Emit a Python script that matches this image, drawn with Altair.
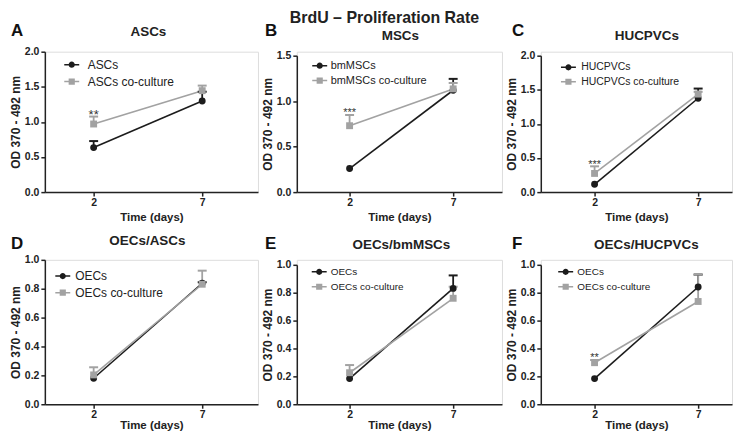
import altair as alt
import pandas as pd

# ---------------- data ----------------
TIME_DAYS = [2, 7]
PANEL_LETTERS = ["A", "B", "C", "D", "E", "F"]
PANEL_TITLES = ["ASCs", "MSCs", "HUCPVCs", "OECs/ASCs", "OECs/bmMSCs", "OECs/HUCPVCs"]
MONO_LABELS = ["ASCs", "bmMSCs", "HUCPVCs", "OECs", "OECs", "OECs"]
CO_LABELS = ["ASCs co-culture", "bmMSCs co-culture", "HUCPVCs co-culture",
             "OECs co-culture", "OECs co-culture", "OECs co-culture"]
MONO_MEAN = [[0.634, 1.297], [0.259, 1.120], [0.115, 1.376],
             [0.180, 0.838], [0.184, 0.831], [0.184, 0.841]]
MONO_UPPER = [[0.727, 1.430], [0.259, 1.245], [0.115, 1.518],
              [0.180, 0.845], [0.184, 0.924], [0.184, 0.930]]
CO_MEAN = [[0.970, 1.445], [0.730, 1.135], [0.274, 1.437],
           [0.203, 0.831], [0.226, 0.760], [0.298, 0.737]]
CO_UPPER = [[1.076, 1.517], [0.848, 1.200], [0.378, 1.470],
            [0.256, 0.925], [0.281, 0.843], [0.317, 0.930]]
SIGNIF = ["**", "***", "***", "", "", "**"]
Y_MAX = [2.0, 1.5, 2.0, 1.0, 1.0, 1.0]
Y_TICKS = [[0, 0.5, 1.0, 1.5, 2.0], [0, 0.5, 1.0, 1.5], [0, 0.5, 1.0, 1.5, 2.0],
           [0, 0.2, 0.4, 0.6, 0.8, 1.0], [0, 0.2, 0.4, 0.6, 0.8, 1.0],
           [0, 0.2, 0.4, 0.6, 0.8, 1.0]]
MAIN_TITLE = "BrdU \u2013 Proliferation Rate"
X_TITLE = "Time (days)"
Y_TITLE = "OD 370 - 492 nm"

# ---------------- layout / style ----------------
FONT = "Liberation Sans"
BLACK = "#1c1c1c"
GRAY = "#a2a2a2"
INK = "#222222"
COL_W = [214, 206, 192]
COL_SPACING = 39
COL_TICK_PX = [(49, 158), (53, 157), (54, 158)]
ROW_H = [141, 145]
ROW_XTITLE_Y = [29, 24.5]
ROW_SPACING = 9
TOP_INSET = [0, 4, 4, 0, 5, 5]
LETTER_X = [-34, -32, -29]
LETTER_BASE = [-16, -10.5]
TITLE_X = [104, 104, 106.5, 103, 105, 106]
TITLE_BASE = [-16, -12, -12, -15, -10.7, -10.7]
TITLE_FS = 13.5
MAIN_TITLE_POS = (88, -29)  # inside panel B, centre / baseline
# legend: symbol centre x, first-row centre y (group coords), label x, row gap, font size
LEG = [(28.5, 13, 46, 17, 12), (25, 14, 38, 14, 11), (30, 15.7, 45, 14, 10.5),
       (19.5, 16.3, 33.5, 16.7, 12), (25, 12, 39, 15, 10), (27.5, 12, 41.7, 15, 10)]
STAR_FS = [13, 11, 11, 11, 11, 11]
STAR_DY = [2.5, 1.4, 1.4, 1.4, 1.4, 1.4]

PATH_CIRCLE = ("M-1.5,-0.15H1.5V0.15H-1.5Z "
               "M0.62,0A0.62,0.62,0,1,1,-0.62,0A0.62,0.62,0,1,1,0.62,0Z")
PATH_SQUARE = "M-1.5,-0.15H1.5V0.15H-1.5Z M-0.62,-0.62H0.62V0.62H-0.62Z"
SYM_SIZE = 100
SYM_HALF = 7.5  # drawn half-length of the legend symbol


def make_panel(i):
    r, c = divmod(i, 3)
    w, h, inset = COL_W[c], ROW_H[r], TOP_INSET[i]
    t0, t1 = COL_TICK_PX[c]
    ppu = (t1 - t0) / (TIME_DAYS[1] - TIME_DAYS[0])
    x_lo = TIME_DAYS[0] - t0 / ppu
    x_hi = x_lo + w / ppu
    mono, co = MONO_LABELS[i], CO_LABELS[i]

    rows = []
    for k, d in enumerate(TIME_DAYS):
        rows.append(dict(day=d, series=mono, mean=MONO_MEAN[i][k], upper=MONO_UPPER[i][k]))
    for k, d in enumerate(TIME_DAYS):
        rows.append(dict(day=d, series=co, mean=CO_MEAN[i][k], upper=CO_UPPER[i][k]))
    df = pd.DataFrame(rows)
    err = df[df["upper"] > df["mean"] + 1e-9]

    xaxis = alt.Axis(values=TIME_DAYS, format="d", title=X_TITLE, grid=False,
                     labelFont=FONT, labelFontSize=10.5, labelFontWeight="bold",
                     labelColor=INK, labelPadding=1.5, labelAngle=0,
                     tickSize=4, tickWidth=1.5, tickColor=INK,
                     domainColor=INK, domainWidth=1.5,
                     titleFont=FONT, titleFontSize=11.5, titleFontWeight="bold",
                     titleColor=INK, titleY=ROW_XTITLE_Y[r], titleBaseline="alphabetic")
    yaxis = alt.Axis(values=Y_TICKS[i], format=".1f", title=Y_TITLE, grid=False,
                     labelFont=FONT, labelFontSize=10.5, labelFontWeight="bold",
                     labelColor=INK, labelPadding=2,
                     tickSize=4, tickWidth=1.5, tickColor=INK,
                     domainColor=INK, domainWidth=1.5,
                     titleFont=FONT, titleFontSize=12, titleFontWeight="bold",
                     titleColor=INK, titleX=-25.7, titleBaseline="alphabetic")
    xscale = alt.Scale(domain=[x_lo, x_hi], nice=False, zero=False)
    yscale = alt.Scale(domain=[0, Y_MAX[i]], range=[h, inset], nice=False, zero=True)

    X = alt.X("day:Q", scale=xscale, axis=xaxis)
    Ymean = alt.Y("mean:Q", scale=yscale, axis=yaxis)
    color = alt.Color("series:N", scale=alt.Scale(domain=[mono, co], range=[BLACK, GRAY]),
                      legend=None)

    lines = alt.Chart(df).mark_line(strokeWidth=1.6).encode(x=X, y=Ymean, color=color)
    bars = alt.Chart(err).mark_rule(strokeWidth=1.8).encode(
        x=X, y=Ymean, y2="upper:Q", color=color)
    caps = alt.Chart(err).mark_tick(size=9, thickness=2, opacity=1, orient="horizontal").encode(
        x=X, y=alt.Y("upper:Q", scale=yscale, axis=yaxis), color=color)
    pts_mono = alt.Chart(df[df["series"] == mono]).mark_point(
        shape="circle", filled=True, size=48, opacity=1, strokeWidth=0).encode(
        x=X, y=Ymean, color=color)
    pts_co = alt.Chart(df[df["series"] == co]).mark_point(
        shape="square", filled=True, size=48, opacity=1, strokeWidth=0).encode(
        x=X, y=Ymean, color=color)

    sx, sy, tx, gap, fs = LEG[i]
    entry_h = max(10, fs)
    leg = alt.Legend(title=None, orient="none", legendX=sx - SYM_HALF, legendY=sy - entry_h / 2,
                     labelFont=FONT, labelFontSize=fs, labelColor=INK,
                     labelOffset=tx - (sx + SYM_HALF), rowPadding=gap - entry_h,
                     symbolSize=SYM_SIZE, symbolStrokeWidth=0, padding=0, labelLimit=300)
    legend_layer = alt.Chart(df).mark_point(filled=True, opacity=1, size=SYM_SIZE).encode(
        fill=alt.Fill("series:N", scale=alt.Scale(domain=[mono, co], range=[BLACK, GRAY]),
                      legend=leg),
        shape=alt.Shape("series:N", scale=alt.Scale(domain=[mono, co],
                                                    range=[PATH_CIRCLE, PATH_SQUARE]),
                        legend=leg),
    ).transform_filter("false")

    layers = [lines, bars, caps, pts_mono, pts_co, legend_layer]

    if SIGNIF[i]:
        sdf = pd.DataFrame([dict(day=TIME_DAYS[0], upper=CO_UPPER[i][0], label=SIGNIF[i])])
        stars = alt.Chart(sdf).mark_text(baseline="alphabetic", font=FONT,
                                         fontSize=STAR_FS[i], dy=STAR_DY[i],
                                         color="#333333").encode(
            x=X, y=alt.Y("upper:Q", scale=yscale, axis=yaxis), text="label:N")
        layers.append(stars)

    ldf = pd.DataFrame({"letter": [PANEL_LETTERS[i]], "name": [PANEL_TITLES[i]]})
    letter = alt.Chart(ldf).mark_text(align="left", baseline="alphabetic", font=FONT,
                                      fontSize=17, fontWeight="bold", color="#111111").encode(
        text="letter:N", x=alt.value(LETTER_X[c]), y=alt.value(LETTER_BASE[r]))
    ptitle = alt.Chart(ldf).mark_text(align="center", baseline="alphabetic", font=FONT,
                                      fontSize=TITLE_FS, fontWeight="bold", color=INK).encode(
        text="name:N", x=alt.value(TITLE_X[i]), y=alt.value(TITLE_BASE[i]))
    layers += [letter, ptitle]

    if i == 1:
        tdf = pd.DataFrame({"t": [MAIN_TITLE]})
        main = alt.Chart(tdf).mark_text(align="center", baseline="alphabetic", font=FONT,
                                        fontSize=16, fontWeight="bold", color=INK).encode(
            text="t:N", x=alt.value(MAIN_TITLE_POS[0]), y=alt.value(MAIN_TITLE_POS[1]))
        layers.append(main)

    return alt.layer(*layers).resolve_scale(
        shape="independent", fill="independent").properties(width=w, height=h)


row_charts = [alt.hconcat(*[make_panel(3 * r + c) for c in range(3)],
                          spacing=COL_SPACING, bounds="flush")
              for r in range(2)]

chart = alt.vconcat(*row_charts, spacing=ROW_SPACING).properties(
    padding=0,
).configure_view(stroke=None).configure(font=FONT)

chart.save("out.html", embed_options={"renderer": "svg", "actions": False})
